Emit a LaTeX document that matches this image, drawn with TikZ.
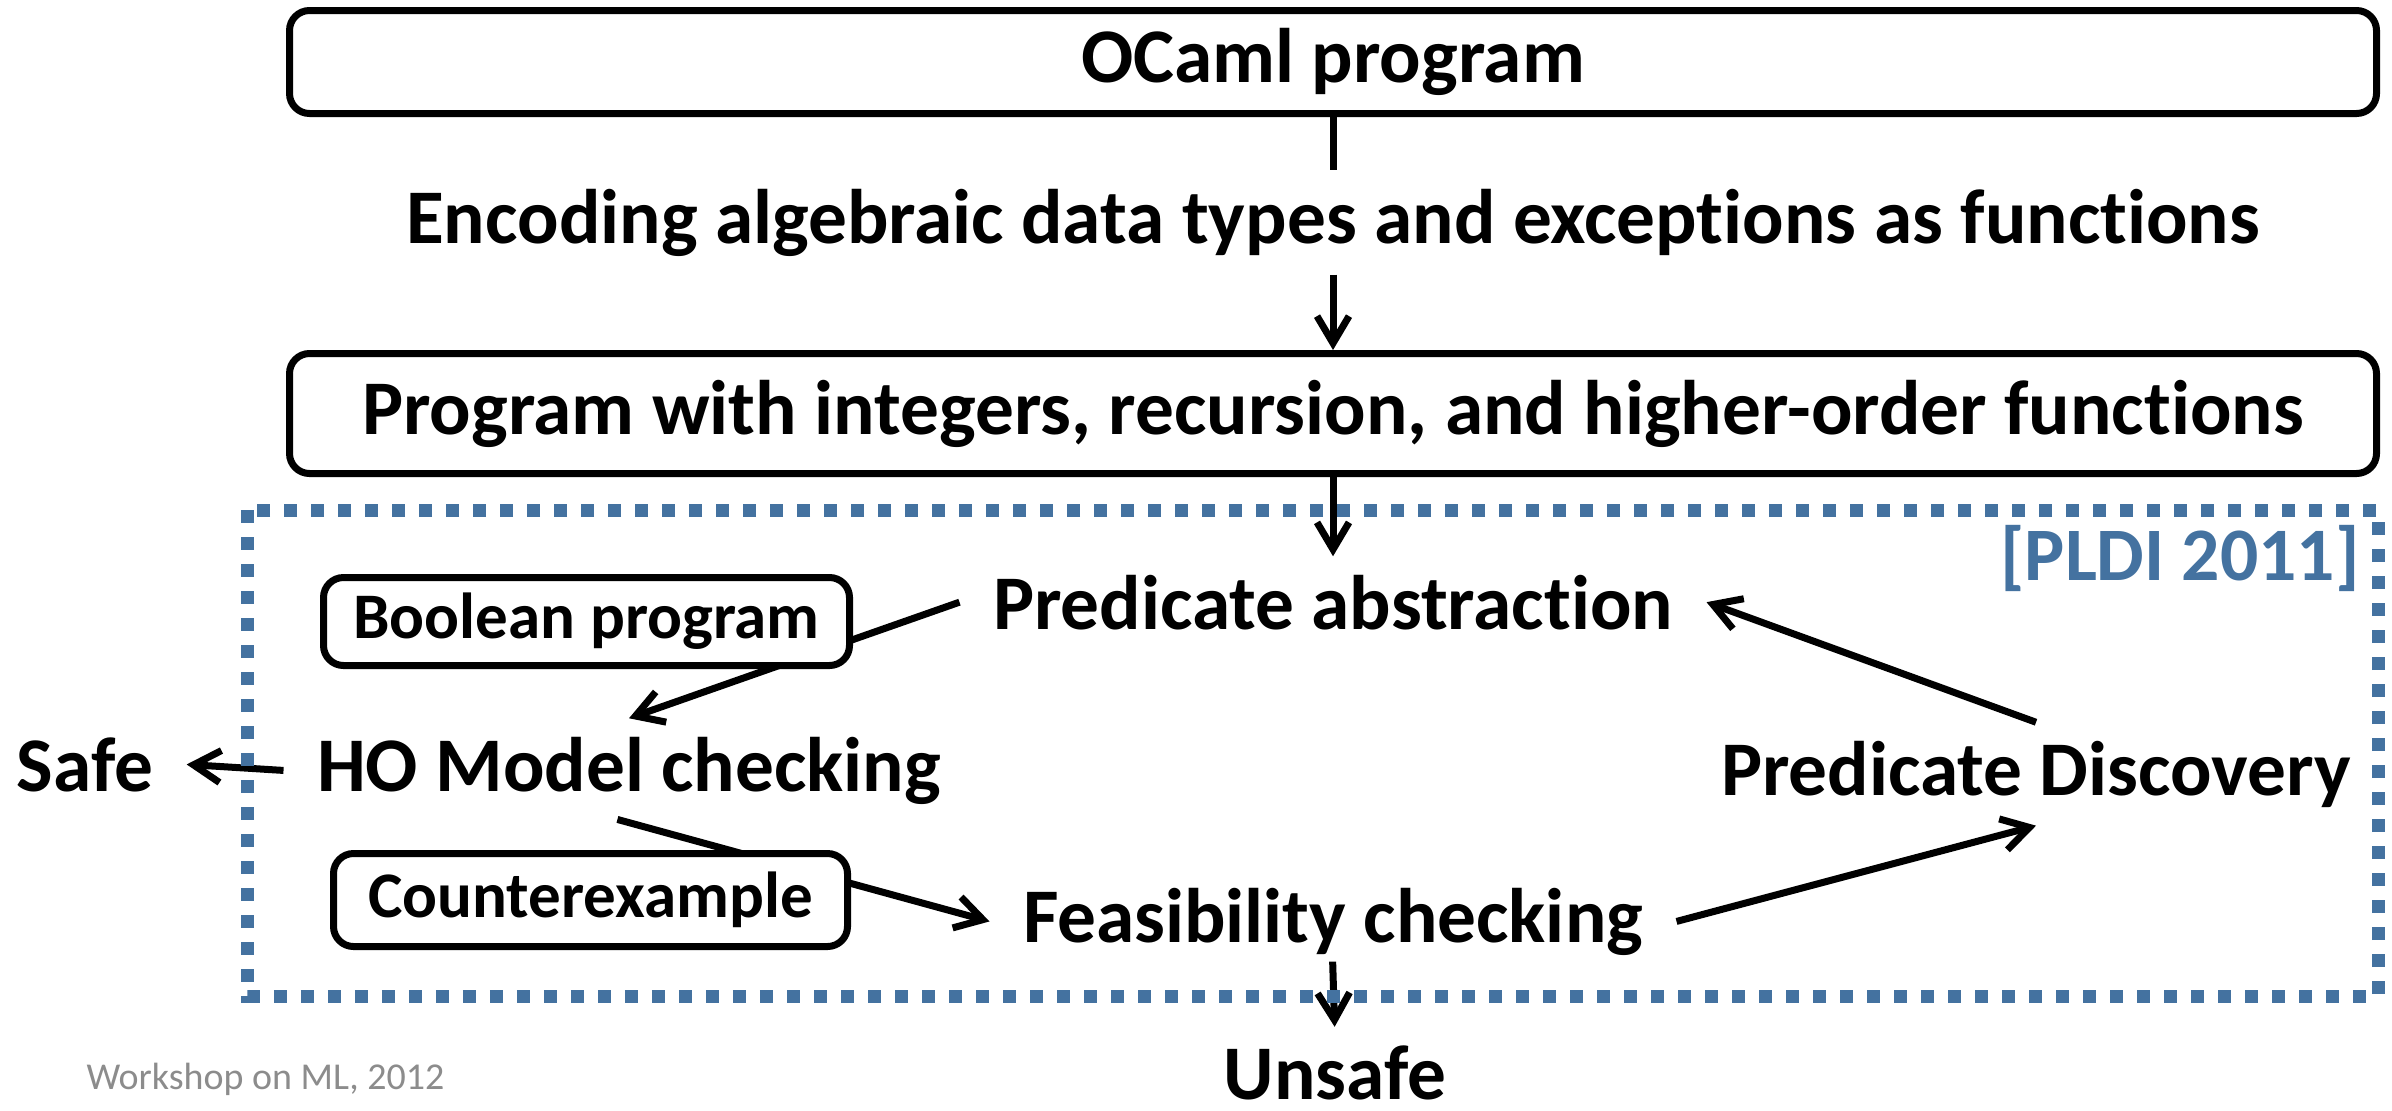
\documentclass[tikz,border=0pt]{standalone}
\usepackage{fontspec}
\setmainfont{Carlito}[Ligatures=NoCommon]
\usetikzlibrary{arrows.meta}
\definecolor{pldiblue}{HTML}{4472A0}
\definecolor{notegray}{HTML}{8C8C8C}

\begin{document}
\begin{tikzpicture}[x=0.1mm, y=-0.1mm, line width=0.7mm, >={Straight Barb[length=2.7mm,width=3.2mm]}]
	\tikzstyle{bigbox} = [draw, rounded corners=2mm, minimum width=208.7mm, minimum height=10.3mm, inner sep=0pt, font=\fontsize{22}{26}\selectfont\bfseries]
	\tikzstyle{stage} = [anchor=base, inner xsep=3mm, inner ysep=1.5mm, font=\fontsize{22}{26}\selectfont\bfseries]
	\tikzstyle{smallbox} = [draw, fill=white, rounded corners=2mm, inner sep=0pt, font=\fontsize{18.5}{22}\selectfont\bfseries]

	\useasboundingbox (0,0) rectangle (2392,1110);

	\node[bigbox] (ocaml) at (1333,62) {OCaml program};
	\node[stage] (encode) at (1333,243) {Encoding algebraic data types and exceptions as functions};
	\node[bigbox, minimum height=12mm] (hoprog) at (1333,413.5) {Program with integers, recursion, and higher-order functions};
	\node[stage] (abst) at (1333,629) {Predicate abstraction};
	\node[stage] (mc) at (629,791) {HO Model checking};
	\node[stage] (safe) at (85,791) {Safe};
	\node[stage] (disc) at (2036,795) {Predicate Discovery};
	\node[stage] (feas) at (1333,942) {Feasibility checking};
	\node[stage, inner ysep=0.3mm] (unsafe) at (1335,1099) {Unsafe};

	\draw (ocaml.south) -- (encode.north);
	\draw[->] (encode.south) -- (hoprog.north);
	\draw[->] (hoprog.south) -- (abst.north);
	\draw[->] (abst.west) -- (mc.north);
	\draw[->] (mc.west) -- (safe.east);
	\draw[->, shorten <=-1.2mm] (mc.south) -- (feas.west);
	\draw[->] (feas.east) -- (disc.south);
	\draw[->] (disc.north) -- (abst.east);
	\draw[->, shorten <=-1.2mm, shorten >=1.2mm] (feas.south) -- (unsafe.north);

	\node[smallbox, minimum width=52.6mm, minimum height=8.8mm] (boolprog) at (586.5,621.5) {Boolean program};
	\node[smallbox, minimum width=51.4mm, minimum height=9.3mm] (cex) at (590.5,900) {Counterexample};

	\draw[pldiblue, line width=1.3mm, dash pattern=on 1.3mm off 1.4mm] (247,510) rectangle (2378,996);
	\node[pldiblue, anchor=base east, inner sep=0pt, font=\fontsize{21.5}{26}\selectfont\bfseries] (pldi) at (2363,580) {[PLDI 2011]};
	\node[notegray, anchor=base west, inner sep=0pt, font=\fontsize{10.8}{13}\selectfont] (venue) at (83,1089) {Workshop on ML, 2012};
\end{tikzpicture}
\end{document}
